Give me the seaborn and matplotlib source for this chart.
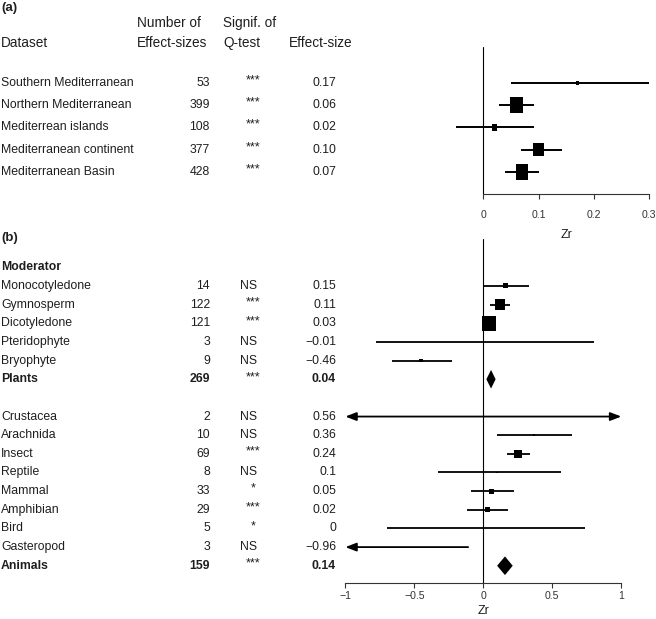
import numpy as np
import pandas as pd
import matplotlib
matplotlib.use('Agg')
import matplotlib.pyplot as plt
import matplotlib.transforms as mtransforms
from matplotlib.path import Path
import seaborn as sns

sns.set_theme(style='white')
plt.rcParams['font.family'] = ['Liberation Sans', 'DejaVu Sans']
plt.rcParams['axes.unicode_minus'] = True

# (a) datasets
dataset = ['Southern Mediterranean', 'Northern Mediterranean', 'Mediterrean islands',
           'Mediterranean continent', 'Mediterranean Basin']
dataset_n = [53, 399, 108, 377, 428]
dataset_sig = ['***', '***', '***', '***', '***']
dataset_es = ['0.17', '0.06', '0.02', '0.10', '0.07']
dataset_zr = [0.17, 0.06, 0.02, 0.10, 0.07]
dataset_lo = [0.05, 0.028, -0.05, 0.069, 0.039]
dataset_hi = [0.30, 0.092, 0.092, 0.142, 0.101]
dataset_w = [16, 208, 36, 143, 208]

# (b) plants
plant = ['Monocotyledone', 'Gymnosperm', 'Dicotyledone', 'Pteridophyte', 'Bryophyte']
plant_n = [14, 122, 121, 3, 9]
plant_sig = ['NS', '***', '***', 'NS', 'NS']
plant_es = ['0.15', '0.11', '0.03', '\u22120.01', '\u22120.46']
plant_zr = [0.16, 0.12, 0.04, -0.01, -0.45]
plant_lo = [0.0, 0.05, 0.01, -0.78, -0.66]
plant_hi = [0.33, 0.19, 0.07, 0.80, -0.23]
plant_w = [25, 110, 210, 0, 12]

# (b) animals
animal = ['Crustacea', 'Arachnida', 'Insect', 'Reptile', 'Mammal', 'Amphibian', 'Bird', 'Gasteropod']
animal_n = [2, 10, 69, 8, 33, 29, 5, 3]
animal_sig = ['NS', 'NS', '***', 'NS', '*', '***', '*', 'NS']
animal_es = ['0.56', '0.36', '0.24', '0.1', '0.05', '0.02', '0', '\u22120.96']
animal_zr = [0.56, 0.37, 0.25, 0.1, 0.06, 0.03, 0.0, -0.96]
animal_lo = [-1.5, 0.10, 0.17, -0.33, -0.09, -0.12, -0.70, -1.8]
animal_hi = [2.6, 0.64, 0.34, 0.56, 0.22, 0.18, 0.74, -0.11]
animal_w = [0, 4, 72, 2, 25, 25, 0, 0]

# pooled
total = ['Plants', 'Animals']
total_n = [269, 159]
total_sig = ['***', '***']
total_es = ['0.04', '0.14']
total_zr = [0.056, 0.157]
total_lo = [0.022, 0.10]
total_hi = [0.089, 0.213]

TXT = '#1e1e1e'
FS = 8.8

top = pd.DataFrame({'label': dataset, 'n': dataset_n, 'sig': dataset_sig, 'es': dataset_es,
                    'zr': dataset_zr, 'lo': dataset_lo, 'hi': dataset_hi, 'w': dataset_w})
top['row'] = np.arange(len(top))

bot = pd.DataFrame({'label': plant + animal, 'n': plant_n + animal_n, 'sig': plant_sig + animal_sig,
                    'es': plant_es + animal_es, 'zr': plant_zr + animal_zr,
                    'lo': plant_lo + animal_lo, 'hi': plant_hi + animal_hi, 'w': plant_w + animal_w})
bot['row'] = list(range(0, 5)) + list(range(7, 15))
tot = pd.DataFrame({'label': total, 'n': total_n, 'sig': total_sig, 'es': total_es,
                    'zr': total_zr, 'lo': total_lo, 'hi': total_hi, 'row': [5, 15]})

W, H = 656, 619
fig = plt.figure(figsize=(W / 100, H / 100), dpi=100)
ax1 = fig.add_axes([439.1 / W, 1 - 194 / H, 215.6 / W, 147 / H])
ax2 = fig.add_axes([341.2 / W, 1 - 583 / H, 314.6 / W, 343.7 / H])


def table(ax, df, bold=False):
    tr = mtransforms.blended_transform_factory(fig.transFigure, ax.transData)
    fw = 'bold' if bold else 'normal'
    for _, r in df.iterrows():
        ax.text(1 / W, r['row'], r['label'], transform=tr, ha='left', va='center', fontsize=FS, color=TXT, fontweight=fw)
        ax.text(210 / W, r['row'], str(r['n']), transform=tr, ha='right', va='center', fontsize=FS, color=TXT, fontweight=fw)
        if r['sig'] == 'NS':
            ax.text(249 / W, r['row'], r['sig'], transform=tr, ha='center', va='center', fontsize=FS, color=TXT)
        else:
            ax.text(253 / W, r['row'] - 0.12, r['sig'], transform=tr, ha='center', va='center', fontsize=9, color=TXT)
        ax.text(336 / W, r['row'], r['es'], transform=tr, ha='right', va='center', fontsize=FS, color=TXT, fontweight=fw)


def style_axis(ax, xlim, ylim, ticks, labels, bounds, pad):
    ax.set_xlim(*xlim)
    ax.set_ylim(*ylim)
    sns.despine(ax=ax, left=True)
    ax.spines['bottom'].set_bounds(*bounds)
    ax.spines['bottom'].set_linewidth(0.8)
    ax.spines['bottom'].set_color('#333333')
    ax.set_xticks(ticks)
    ax.set_xticklabels(labels)
    ax.set_yticks([])
    ax.set_xlabel('')
    ax.set_ylabel('')
    ax.tick_params(axis='x', bottom=True, direction='out', length=3.6, width=0.8, color='#333333',
                   labelsize=7.6, labelcolor='#333333', pad=pad)
    ax.axvline(0, color='black', lw=0.8, zorder=1)


# ---- (a)
rect = Path([(-0.4, -0.5), (0.4, -0.5), (0.4, 0.5), (-0.4, 0.5), (-0.4, -0.5)], closed=True)
ax1.hlines(top['row'], top['lo'], top['hi'], color='black', lw=1.4, zorder=2)
sns.scatterplot(data=top, x='zr', y='row', size='w', sizes=(0, 132.7), size_norm=(0, 208),
                marker=rect, color='black', linewidth=0, legend=False, ax=ax1, zorder=3)
style_axis(ax1, (-0.08, 0.31), (4.989, -1.618), [0, 0.1, 0.2, 0.3], ['0', '0.1', '0.2', '0.3'], (0, 0.3), 8)
ax1.text(0.15, 6.83, 'Zr', ha='center', va='center', fontsize=9, color=TXT)
table(ax1, top)
tr1 = mtransforms.blended_transform_factory(fig.transFigure, ax1.transData)
ax1.text(1 / W, -3.37, '(a)', transform=tr1, ha='left', va='center', fontsize=9.5, fontweight='bold', color=TXT)
ax1.text(1 / W, -1.8, 'Dataset', transform=tr1, ha='left', va='center', fontsize=9.8, color=TXT)
ax1.text(137 / W, -2.7, 'Number of', transform=tr1, ha='left', va='center', fontsize=9.8, color=TXT)
ax1.text(137 / W, -1.8, 'Effect-sizes', transform=tr1, ha='left', va='center', fontsize=9.8, color=TXT)
ax1.text(223 / W, -2.7, 'Signif. of', transform=tr1, ha='left', va='center', fontsize=9.8, color=TXT)
ax1.text(223 / W, -1.8, 'Q-test', transform=tr1, ha='left', va='center', fontsize=9.8, color=TXT)
ax1.text(289 / W, -1.8, 'Effect-size', transform=tr1, ha='left', va='center', fontsize=9.8, color=TXT)

# ---- (b)
lo_c = bot['lo'].clip(lower=-1)
hi_c = bot['hi'].clip(upper=1)
plain = (bot['lo'] >= -1) & (bot['hi'] <= 1)
ax2.hlines(bot.loc[plain, 'row'], lo_c[plain], hi_c[plain], color='black', lw=1.3, zorder=2)
for i in bot.index[~plain]:
    both = bot.loc[i, 'lo'] < -1 and bot.loc[i, 'hi'] > 1
    style = '<|-|>' if both else '-|>'
    if both or bot.loc[i, 'lo'] < -1:
        xy, xytext = (lo_c[i], bot.loc[i, 'row']), (hi_c[i], bot.loc[i, 'row'])
    else:
        xy, xytext = (hi_c[i], bot.loc[i, 'row']), (lo_c[i], bot.loc[i, 'row'])
    ax2.annotate('', xy=xy, xytext=xytext,
                 arrowprops=dict(arrowstyle=style + ',head_length=0.65,head_width=0.25', color='black', lw=1.3,
                                 mutation_scale=10, shrinkA=0, shrinkB=0), zorder=2)
sns.scatterplot(data=bot[plain], x='zr', y='row', size='w', sizes=(0, 108.9), size_norm=(0, 210),
                marker='s', color='black', linewidth=0, legend=False, ax=ax2, zorder=3)
for _, r in tot.iterrows():
    ax2.fill([r['lo'], r['zr'], r['hi'], r['zr']], [r['row'], r['row'] - 0.5, r['row'], r['row'] + 0.5],
             color='black', lw=0, zorder=3)
style_axis(ax2, (-1.03, 1.25), (15.925, -2.504), [-1, -0.5, 0, 0.5, 1],
           ['\u22121', '\u22120.5', '0', '0.5', '1'], (-1, 1), 2.5)
ax2.text(0, 17.43, 'Zr', ha='center', va='center', fontsize=9, color=TXT)
table(ax2, bot)
table(ax2, tot, bold=True)
tr2 = mtransforms.blended_transform_factory(fig.transFigure, ax2.transData)
ax2.text(1 / W, -2.57, '(b)', transform=tr2, ha='left', va='center', fontsize=9.5, fontweight='bold', color=TXT)
ax2.text(1 / W, -1.0, 'Moderator', transform=tr2, ha='left', va='center', fontsize=FS, fontweight='bold', color=TXT)

fig.savefig('out.png', dpi=100, facecolor='white')
